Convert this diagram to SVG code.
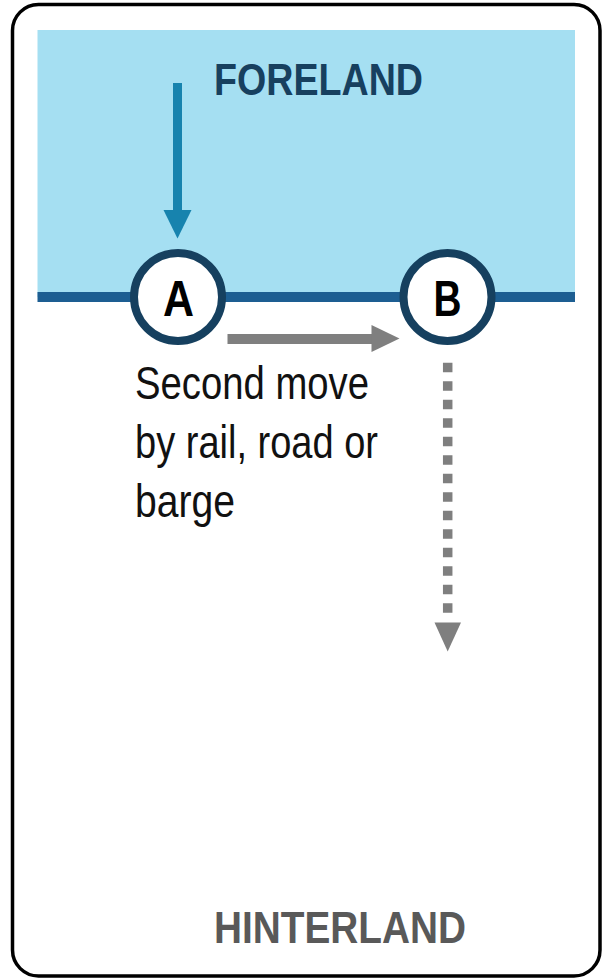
<svg xmlns="http://www.w3.org/2000/svg" width="602" height="979" viewBox="0 0 602 979">
  <defs>
    <style>
      .frame { fill: #ffffff; stroke: #000000; stroke-width: 3.5; }
      .sea { fill: #a5dff2; }
      .coast { stroke: #1d5e92; stroke-width: 10; }
      .port circle { fill: #ffffff; stroke: #16405f; stroke-width: 8; }
      .port text { font-family: "Liberation Sans", Arial, sans-serif; font-weight: bold; font-size: 50px; fill: #000000; text-anchor: middle; }
      .region { font-family: "Liberation Sans", Arial, sans-serif; font-weight: bold; font-size: 45px; }
      .note { font-family: "Liberation Sans", Arial, sans-serif; font-size: 46px; fill: #111111; }
    </style>
  </defs>

  <!-- card outline -->
  <rect class="frame" x="12.5" y="4.5" width="587.5" height="971.5" rx="26" ry="26"/>

  <!-- sea area and coastline -->
  <rect class="sea" x="37.5" y="30" width="537.5" height="267"/>
  <line class="coast" x1="37.5" y1="297" x2="575" y2="297"/>

  <text class="region" x="214" y="94.5" fill="#17405f" textLength="209" lengthAdjust="spacingAndGlyphs">FORELAND</text>
  <text class="region" x="214" y="943" fill="#595959" textLength="252" lengthAdjust="spacingAndGlyphs">HINTERLAND</text>

  <g id="connectors">
    <!-- sea leg into port A -->
    <line x1="177.5" y1="83" x2="177.5" y2="212" stroke="#1783ae" stroke-width="9"/>
    <polygon points="163.5,210 191.5,210 177.5,238.5" fill="#1783ae"/>
    <!-- second move A to B -->
    <line x1="227.5" y1="339" x2="374" y2="339" stroke="#7f7f7f" stroke-width="10"/>
    <polygon points="371.5,325 371.5,352 399.5,338.5" fill="#7f7f7f"/>
    <!-- onward leg from B into the hinterland -->
    <line x1="447.7" y1="362.7" x2="447.7" y2="615" stroke="#7f7f7f" stroke-width="9.5" stroke-dasharray="9.5 9"/>
    <polygon points="434.5,622.5 461,622.5 447.7,651.5" fill="#7f7f7f"/>
  </g>

  <g id="port-a" class="port">
    <circle cx="178" cy="297" r="44"/>
    <text x="178.5" y="316" textLength="31" lengthAdjust="spacingAndGlyphs">A</text>
  </g>
  <g id="port-b" class="port">
    <circle cx="447.5" cy="297" r="44"/>
    <text x="447.5" y="316" textLength="28" lengthAdjust="spacingAndGlyphs">B</text>
  </g>

  <g id="note">
    <text class="note" x="135" y="399" textLength="234" lengthAdjust="spacingAndGlyphs">Second move</text>
    <text class="note" x="135" y="458" textLength="243" lengthAdjust="spacingAndGlyphs">by rail, road or</text>
    <text class="note" x="135" y="517" textLength="100" lengthAdjust="spacingAndGlyphs">barge</text>
  </g>
</svg>
